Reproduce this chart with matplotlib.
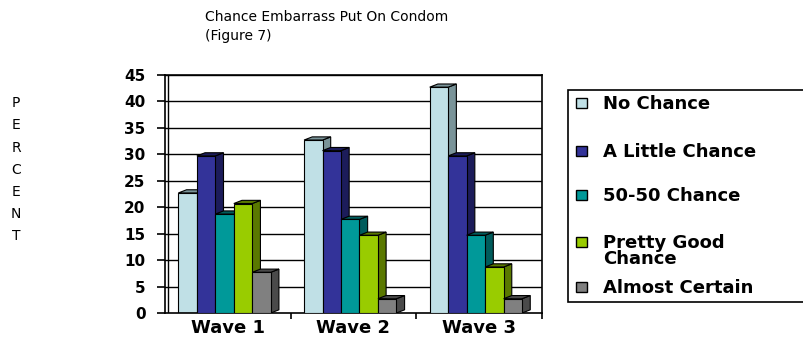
import numpy as np
import matplotlib
matplotlib.use("Agg")
import matplotlib.pyplot as plt
from matplotlib.patches import Polygon, Rectangle

# data
waves = ["Wave 1", "Wave 2", "Wave 3"]
series = ["No Chance", "A Little Chance", "50-50 Chance",
          "Pretty Good\nChance", "Almost Certain"]
no_chance = [23, 33, 43]
a_little = [30, 31, 30]
fifty_fifty = [19, 18, 15]
pretty_good = [21, 15, 9]
almost_certain = [8, 3, 3]
yticks = list(range(0, 50, 5))

values = [no_chance, a_little, fifty_fifty, pretty_good, almost_certain]
front_colors = ["#C0E0E6", "#333399", "#009999", "#99CC00", "#808080"]
side_colors = ["#7A9499", "#1C1C5A", "#005C5C", "#5A7800", "#4A4A4A"]

fig = plt.figure(figsize=(8.04, 3.43), dpi=100)
ax = fig.add_axes([165 / 804, 30 / 343, 377 / 804, 238 / 343])
ax.set_xlim(0, 3)
ax.set_ylim(0, 45)

# back wall gridlines
for t in yticks[1:]:
    ax.axhline(t, color="black", lw=1.0, zorder=1)
# inner edge of the back wall
ax.axvline(0.025, color="black", lw=1.0, zorder=1)

w = 0.147
dx = 0.065
dy = 0.6
for i in range(len(waves)):
    for j, vals in enumerate(values):
        v = vals[i]
        xc = i + 0.18 + j * w
        top = v - dy / 2
        xl, xr = xc - w / 2, xc + w / 2
        side = Polygon([(xr, 0), (xr + dx, dy), (xr + dx, top + dy), (xr, top)],
                       closed=True, facecolor=side_colors[j], edgecolor="black",
                       lw=0.8, zorder=2 + i * 10 + j)
        cap = Polygon([(xl, top), (xl + dx, top + dy), (xr + dx, top + dy), (xr, top)],
                      closed=True, facecolor=side_colors[j], edgecolor="black",
                      lw=0.8, zorder=2 + i * 10 + j)
        ax.add_patch(side)
        ax.add_patch(cap)
        ax.bar(xc, top, width=w, color=front_colors[j], edgecolor="black",
               lw=0.8, zorder=2.5 + i * 10 + j)

ax.set_yticks(yticks)
ax.set_yticklabels([str(t) for t in yticks], fontfamily="DejaVu Sans",
                   fontweight="bold", fontsize=11)
ax.tick_params(axis="y", direction="out", length=6, width=1.2, pad=8)
ax.set_xticks([1, 2, 3])
ax.set_xticklabels([])
ax.tick_params(axis="x", direction="out", length=4, width=1.2)
ax.set_xticks([0.5, 1.5, 2.5], minor=True)
ax.set_xticklabels(waves, minor=True, fontfamily="DejaVu Sans",
                   fontweight="bold", fontsize=13)
ax.tick_params(axis="x", which="minor", length=0, pad=4)
for s in ax.spines.values():
    s.set_color("black")
    s.set_linewidth(1.2)

# title and axis label
fig.text(205 / 804, 1 - 10 / 343, "Chance Embarrass Put On Condom\n(Figure 7)",
         fontfamily="DejaVu Sans", fontsize=10, ha="left", va="top",
         linespacing=1.45)
fig.text(16 / 804, 1 - 96 / 343, "P\nE\nR\nC\nE\nN\nT",
         fontfamily="DejaVu Sans", fontsize=10, ha="center", va="top",
         linespacing=1.75)

# legend box, cut off by the right edge as in the reference
fig.patches.append(Rectangle((568 / 804, 1 - 302 / 343), 300 / 804, 212 / 343,
                             transform=fig.transFigure, facecolor="white",
                             edgecolor="black", lw=1.2))
entry_y = [103, 151, 195, 242, 287]
for j, name in enumerate(series):
    yy = entry_y[j]
    fig.patches.append(Rectangle((576 / 804, 1 - (yy + 5) / 343), 11 / 804, 10 / 343,
                                 transform=fig.transFigure,
                                 facecolor=front_colors[j], edgecolor="black", lw=1.0))
    fig.text(603 / 804, 1 - (yy - 8) / 343, name, fontfamily="DejaVu Sans",
             fontweight="bold", fontsize=13, ha="left", va="top",
             linespacing=0.85)

fig.savefig("out.png", dpi=100)
